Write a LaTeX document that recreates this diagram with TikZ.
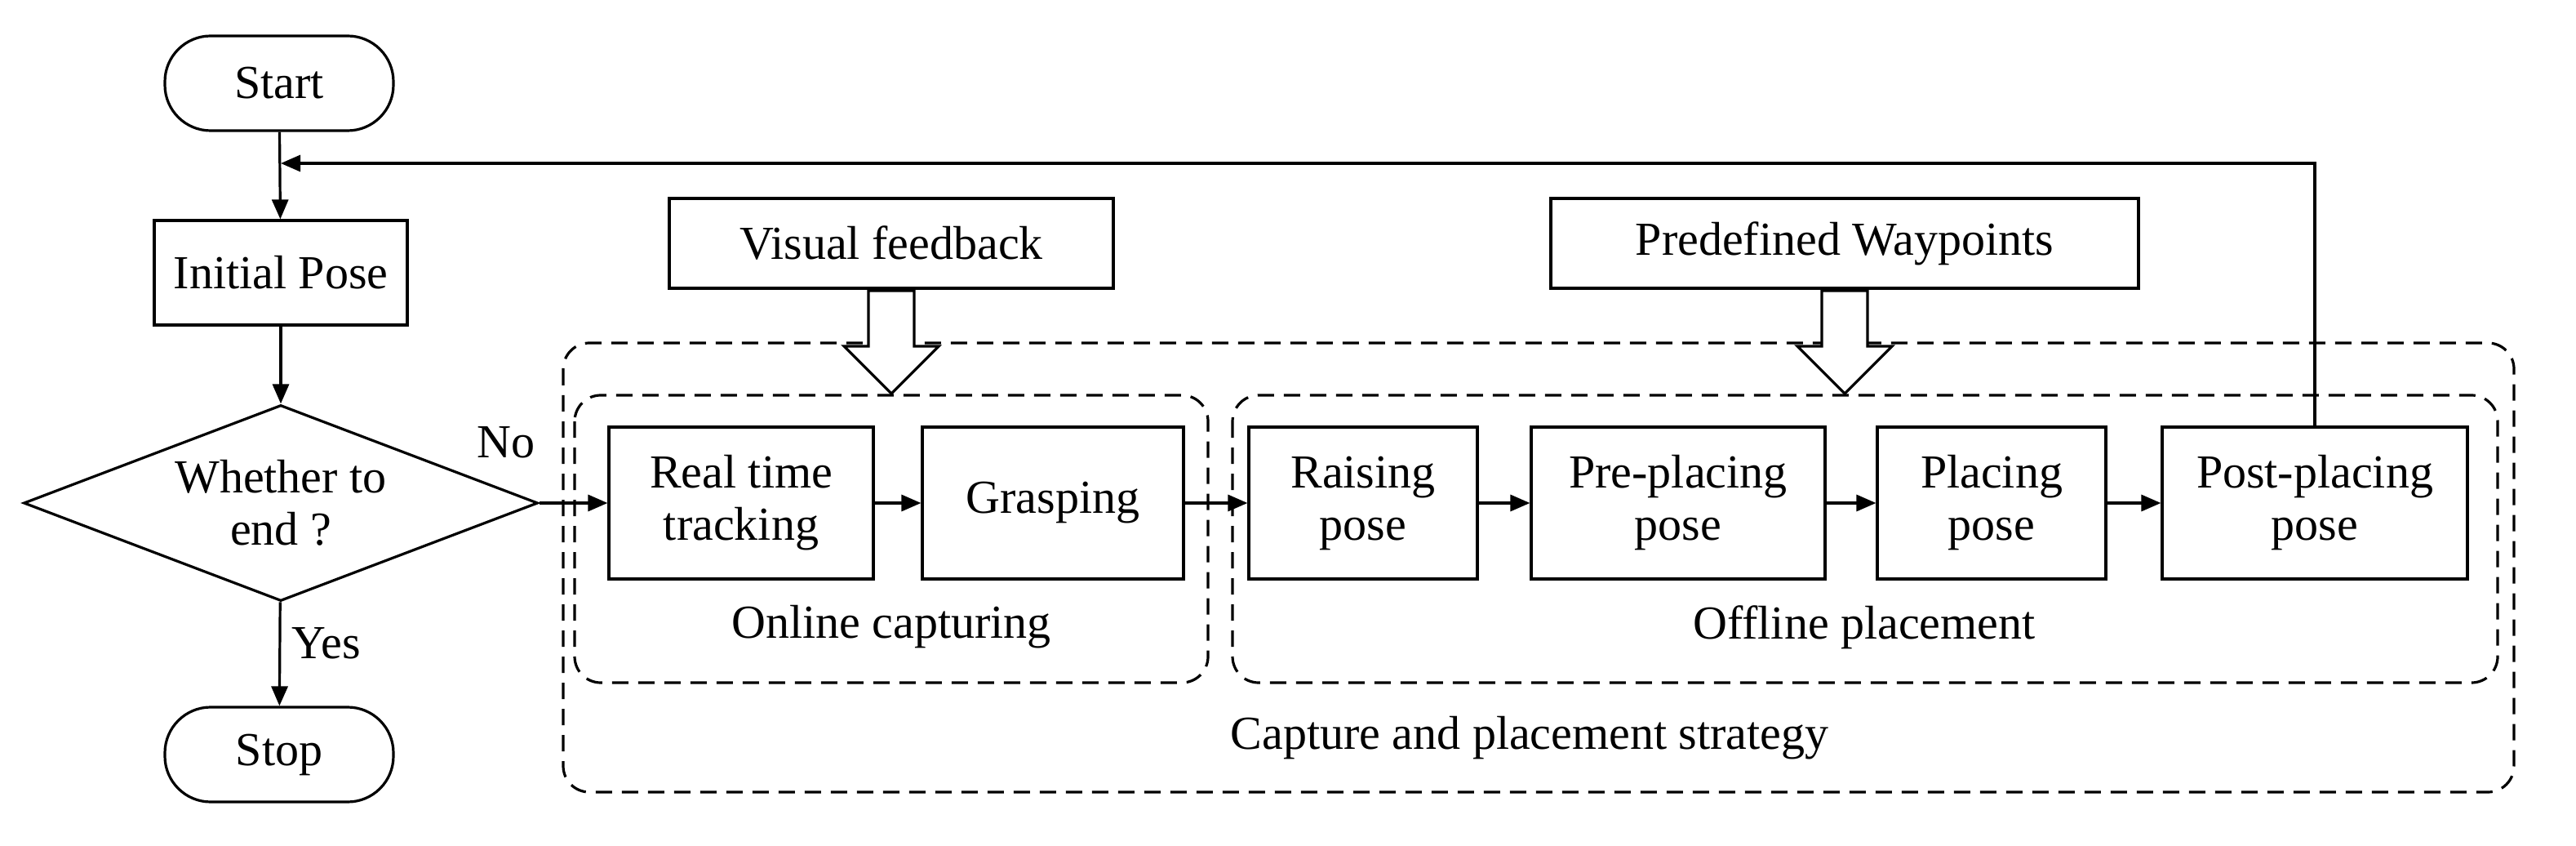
\documentclass[tikz,border=0pt]{standalone}
\usepackage{fontspec}
\setmainfont{Liberation Serif}
\usetikzlibrary{shapes.geometric,arrows.meta}
\begin{document}
\begin{tikzpicture}[x=0.5pt,y=-0.5pt,
  every node/.style={font=\fontsize{14.5}{16}\selectfont},
  box/.style={draw,line width=0.8pt,minimum width=#1*0.5pt,align=center,inner sep=0pt},
  term/.style={draw,line width=0.8pt,rounded corners=14pt,minimum width=140*0.5pt,minimum height=58*0.5pt},
  dbox/.style={draw,line width=0.8pt,dash pattern=on 5pt off 3pt,rounded corners=8pt},
  arr/.style={line width=0.8pt,-{Triangle[length=6pt,width=5pt]}},
  hollow/.style={draw,line width=0.8pt,fill=white}]
\useasboundingbox (0,0) rectangle (1578,518);
\node[term] (start) at (171,51) {Start};
\node[box=155,minimum height=64*0.5pt] (init) at (172,167) {Initial Pose};
\node[draw,line width=0.8pt,diamond,aspect=2.6,minimum width=315*0.5pt,minimum height=120*0.5pt,inner sep=0pt,align=center] (dec) at (172,308) {Whether to\\end ?};
\node[term] (stop) at (171,462) {Stop};
\node[box=272,minimum height=55*0.5pt] (vf) at (546,149) {Visual feedback};
\node[box=360,minimum height=55*0.5pt] (pw) at (1130,149) {Predefined Waypoints};
\draw[dbox] (345,210) rectangle (1540,485);
\draw[dbox] (352,242) rectangle (740,418);
\draw[dbox] (755,242) rectangle (1530,418);
\node[box=162,minimum height=93*0.5pt] (rt) at (454,308) {Real time\\tracking};
\node[box=160,minimum height=93*0.5pt] (gr) at (645,308) {Grasping};
\node[box=140,minimum height=93*0.5pt] (ra) at (835,308) {Raising\\pose};
\node[box=180,minimum height=93*0.5pt] (pp) at (1028,308) {Pre-placing\\pose};
\node[box=140,minimum height=93*0.5pt] (pl) at (1220,308) {Placing\\pose};
\node[box=187,minimum height=93*0.5pt] (po) at (1418,308) {Post-placing\\pose};
\node (l1) at (546,384) {Online capturing};
\node (l2) at (1142,384) {Offline placement};
\node (l3) at (937,452) {Capture and placement strategy};
\node (no) at (310,271) {No};
\coordinate (m) at (172,100);
\draw[arr] (start) -- (init);
\draw[arr] (init) -- (dec);
\draw[arr] (dec) -- node[right,pos=0.4] {Yes} (stop);
\draw[arr] (dec.east) -- (rt.west);
\draw[arr] (rt) -- (gr);
\draw[arr] (gr) -- (ra);
\draw[arr] (ra) -- (pp);
\draw[arr] (pp) -- (pl);
\draw[arr] (pl) -- (po);
\draw[arr] (po.north) |- (m);
\foreach \c in {546,1130}{
  \draw[hollow] (\c-14,178) -- (\c+14,178) -- (\c+14,212) -- (\c+29,212) -- (\c,241) -- (\c-29,212) -- (\c-14,212) -- cycle;
}
\end{tikzpicture}
\end{document}
